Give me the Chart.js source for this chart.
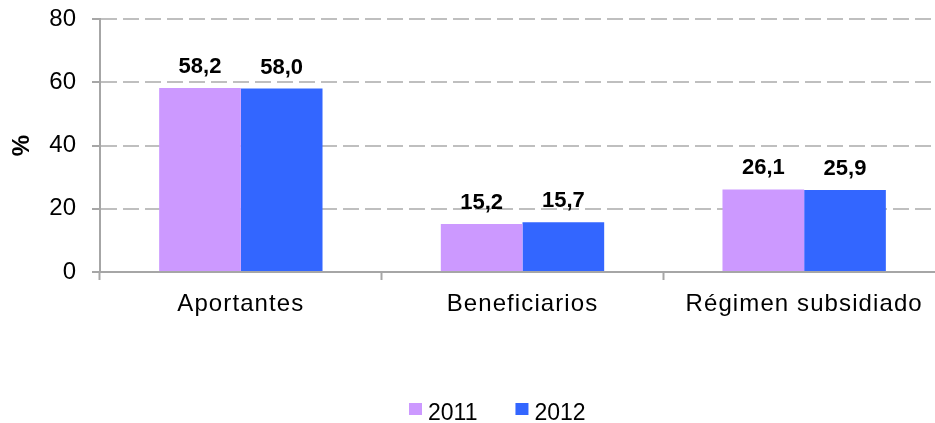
<!DOCTYPE html>
<html>
<head>
<meta charset="utf-8">
<script src="https://cdn.jsdelivr.net/npm/chart.js@4.4.0/dist/chart.umd.min.js"></script>
<style>
  html, body { margin: 0; padding: 0; background: #fff; overflow: hidden; }
  #wrap { position: relative; width: 945px; height: 423px; }
</style>
</head>
<body>
<div id="wrap"><canvas id="c" width="945" height="423"></canvas></div>
<script>
const categories = ['Aportantes', 'Beneficiarios', 'Régimen subsidiado'];
const series2011 = [58.2, 15.2, 26.1];
const series2012 = [58.0, 15.7, 25.9];
const seriesNames = ['2011', '2012'];
const yTicks = [0, 20, 40, 60, 80];

const FONT = '"Liberation Sans", Arial, Helvetica, sans-serif';
Chart.defaults.font.family = FONT;
Chart.defaults.color = '#000';

const fmt = v => v.toFixed(1).replace('.', ',');

const dataLabels = {
  id: 'dataLabels',
  afterDatasetsDraw(chart) {
    const ctx = chart.ctx;
    ctx.save();
    ctx.font = 'bold 22px ' + FONT;
    ctx.fillStyle = '#000';
    ctx.textAlign = 'center';
    ctx.textBaseline = 'alphabetic';
    chart.data.datasets.forEach((ds, i) => {
      chart.getDatasetMeta(i).data.forEach((bar, j) => {
        ctx.fillText(fmt(ds.data[j]), bar.x, bar.y - 15);
      });
    });
    ctx.restore();
  }
};

const spacedXLabels = {
  id: 'spacedXLabels',
  afterLayout(chart) {
    const xs = chart.scales.x;
    if (!xs || xs._spacedPatched) return;
    const orig = xs.drawLabels.bind(xs);
    xs.drawLabels = function (area) {
      const ctx = this.ctx;
      ctx.save();
      try { ctx.letterSpacing = '1.1px'; } catch (e) {}
      orig(area);
      ctx.restore();
    };
    xs._spacedPatched = true;
  }
};

const customLegend = {
  id: 'customLegend',
  afterDraw(chart) {
    const ctx = chart.ctx;
    ctx.save();
    ctx.font = '23px ' + FONT;
    ctx.textBaseline = 'alphabetic';
    ctx.textAlign = 'left';
    let x = 409;
    const boxTop = 403, box = 12, gap = 7, itemGap = 38, baseline = 420;
    chart.data.datasets.forEach(ds => {
      ctx.fillStyle = ds.backgroundColor;
      ctx.fillRect(x, boxTop, box + 1, box);
      x += box + gap;
      ctx.fillStyle = '#000';
      ctx.fillText(ds.label, x, baseline);
      x += ctx.measureText(ds.label).width + itemGap;
    });
    ctx.restore();
  }
};

new Chart(document.getElementById('c'), {
  type: 'bar',
  data: {
    labels: categories,
    datasets: [
      { label: seriesNames[0], data: series2011, backgroundColor: '#CC99FF', borderWidth: 0 },
      { label: seriesNames[1], data: series2012, backgroundColor: '#3366FF', borderWidth: 0 }
    ]
  },
  options: {
    responsive: false,
    animation: false,
    events: [],
    layout: { padding: { top: 19, left: 0, right: 0, bottom: 0 } },
    datasets: { bar: { categoryPercentage: 0.58, barPercentage: 1.0 } },
    plugins: {
      legend: { display: false },
      tooltip: { enabled: false }
    },
    scales: {
      x: {
        offset: true,
        afterFit(s) { s.height = 151; },
        grid: {
          offset: true,
          drawOnChartArea: false,
          drawTicks: true,
          tickLength: 8,
          tickColor: '#A6A6A6',
          tickWidth: 2
        },
        border: { display: true, color: '#A6A6A6', width: 2 },
        ticks: {
          font: { size: 24 },
          color: '#000',
          padding: 10,
          maxRotation: 0,
          autoSkip: false
        }
      },
      y: {
        min: 0,
        max: 80,
        afterFit(s) { s.width = 100; s.paddingTop = 0; s.paddingBottom = 0; },
        afterBuildTicks(s) { s.ticks = yTicks.map(v => ({ value: v })); },
        grid: {
          color: c => (c.tick && c.tick.value === 0) ? 'rgba(0,0,0,0)' : '#BFBFBF',
          lineWidth: 2,
          drawTicks: true,
          tickLength: 8,
          tickColor: '#A6A6A6',
          tickWidth: 2,
          tickBorderDash: []
        },
        border: { display: true, color: '#A6A6A6', width: 2, dash: [16, 6] },
        ticks: {
          font: { size: 24 },
          color: '#000',
          padding: 16
        },
        title: {
          display: true,
          text: '%',
          font: { size: 24, weight: 'bold' },
          color: '#000',
          padding: { top: 8, bottom: 0 }
        }
      }
    }
  },
  plugins: [spacedXLabels, dataLabels, customLegend]
});
</script>
</body>
</html>
